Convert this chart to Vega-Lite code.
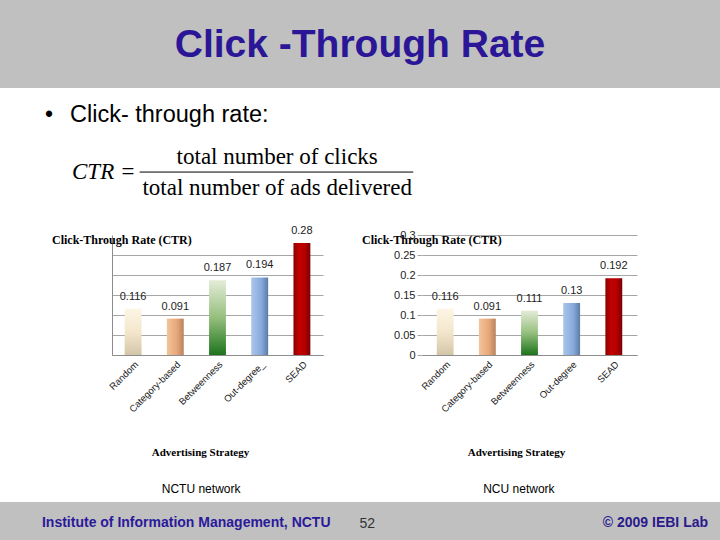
{
  "$schema": "https://vega.github.io/schema/vega-lite/v6.json",
  "padding": 0,
  "spacing": 0,
  "background": "white",
  "datasets": {
    "nctu": [
      {"strategy": "Random", "ctr": 0.116},
      {"strategy": "Category-based", "ctr": 0.091},
      {"strategy": "Betweenness", "ctr": 0.187},
      {"strategy": "Out-degree_", "ctr": 0.194},
      {"strategy": "SEAD", "ctr": 0.28}
    ],
    "ncu": [
      {"strategy": "Random", "ctr": 0.116},
      {"strategy": "Category-based", "ctr": 0.091},
      {"strategy": "Betweenness", "ctr": 0.111},
      {"strategy": "Out-degree", "ctr": 0.13},
      {"strategy": "SEAD", "ctr": 0.192}
    ]
  },
  "config": {
    "view": {"stroke": null},
    "concat": {"spacing": 0},
    "text": {"font": "Liberation Sans"},
    "axis": {"labelFont": "Liberation Sans", "titleFont": "Liberation Serif", "labelColor": "#222222", "titleColor": "#000000"}
  },
  "vconcat": [
    {
      "width": 720,
      "height": 88,
      "view": {"fill": "#c0c0c0", "stroke": null},
      "data": {"values": [{"t": "Click -Through Rate"}]},
      "mark": {"type": "text", "font": "Liberation Sans", "fontWeight": "bold", "fontSize": 39, "color": "#2a1696", "baseline": "alphabetic", "dy": 13},
      "encoding": {"text": {"field": "t"}}
    },
    {
      "width": 720,
      "height": 136,
      "layer": [
        {
          "data": {"values": [{"t": "•"}]},
          "mark": {"type": "text", "fontSize": 23, "align": "left", "baseline": "middle", "color": "#000000"},
          "encoding": {
            "x": {"datum": 0.0625, "type": "quantitative", "scale": {"domain": [0, 1]}, "axis": null},
            "y": {"datum": 0.199, "type": "quantitative", "scale": {"domain": [0, 1], "reverse": true}, "axis": null},
            "text": {"field": "t"}
          }
        },
        {
          "data": {"values": [{"t": "Click- through rate:"}]},
          "mark": {"type": "text", "fontSize": 23.5, "align": "left", "baseline": "middle", "color": "#000000"},
          "encoding": {
            "x": {"datum": 0.0972, "type": "quantitative"},
            "y": {"datum": 0.199, "type": "quantitative"},
            "text": {"field": "t"}
          }
        },
        {
          "data": {"values": [{"t": "CTR ="}]},
          "mark": {"type": "text", "font": "Liberation Serif", "fontStyle": "italic", "fontSize": 23, "align": "left", "baseline": "middle", "color": "#000000"},
          "encoding": {
            "x": {"datum": 0.1, "type": "quantitative"},
            "y": {"datum": 0.618, "type": "quantitative"},
            "text": {"field": "t"}
          }
        },
        {
          "data": {"values": [{"t": "total number of clicks"}]},
          "mark": {"type": "text", "font": "Liberation Serif", "fontSize": 23, "align": "center", "baseline": "middle", "color": "#000000"},
          "encoding": {
            "x": {"datum": 0.385, "type": "quantitative"},
            "y": {"datum": 0.507, "type": "quantitative"},
            "text": {"field": "t"}
          }
        },
        {
          "data": {"values": [{}]},
          "mark": {"type": "rule", "color": "#000000", "strokeWidth": 1},
          "encoding": {
            "x": {"datum": 0.194, "type": "quantitative"},
            "x2": {"datum": 0.574},
            "y": {"datum": 0.618, "type": "quantitative"}
          }
        },
        {
          "data": {"values": [{"t": "total number of ads delivered"}]},
          "mark": {"type": "text", "font": "Liberation Serif", "fontSize": 23, "align": "center", "baseline": "middle", "color": "#000000"},
          "encoding": {
            "x": {"datum": 0.385, "type": "quantitative"},
            "y": {"datum": 0.735, "type": "quantitative"},
            "text": {"field": "t"}
          }
        }
      ]
    },
    {
      "spacing": 39,
      "hconcat": [
        {
          "width": 13,
          "height": 10,
          "data": {"values": [{}]},
          "mark": {"type": "text", "text": ""}
        },
        {
          "width": 211,
          "height": 120,
          "title": {"text": "Click-Through Rate (CTR)", "anchor": "start", "frame": "group", "dx": -60, "offset": -22, "font": "Liberation Serif", "fontSize": 12, "fontWeight": "bold", "color": "#000000"},
          "data": {"name": "nctu"},
          "layer": [
            {
              "mark": {"type": "bar"},
              "encoding": {
                "x": {
                  "field": "strategy", "type": "nominal", "sort": null,
                  "scale": {"paddingInner": 0.6, "paddingOuter": 0.3},
                  "axis": {"title": "Advertising Strategy", "labelAngle": -45, "ticks": false, "domainColor": "#8c8c8c", "labelFontSize": 9.5, "titleFontSize": 11, "titleFontWeight": "bold", "titlePadding": 33, "titleX": 88, "labelPadding": 4}
                },
                "y": {
                  "field": "ctr", "type": "quantitative",
                  "scale": {"domain": [0, 0.3]},
                  "axis": {"values": [0, 0.05, 0.1, 0.15, 0.2, 0.25], "tickCount": 10, "labels": false, "ticks": false, "domain": true, "domainColor": "#8c8c8c", "title": null, "gridColor": "#a6a6a6"}
                },
                "fill": {
                  "condition": [
                    {"test": "datum.strategy === 'Random'", "value": {"gradient": "linear", "x1": 0, "y1": 0, "x2": 0, "y2": 1, "stops": [{"offset": 0, "color": "#fdf6e6"}, {"offset": 0.5, "color": "#f3e6cc"}, {"offset": 1, "color": "#d3c6a8"}]}},
                    {"test": "datum.strategy === 'Category-based'", "value": {"gradient": "linear", "x1": 0, "y1": 0, "x2": 1, "y2": 0, "stops": [{"offset": 0, "color": "#f4c49a"}, {"offset": 0.6, "color": "#e6a77a"}, {"offset": 1, "color": "#b6825e"}]}},
                    {"test": "datum.strategy === 'Betweenness'", "value": {"gradient": "linear", "x1": 0, "y1": 0, "x2": 0, "y2": 1, "stops": [{"offset": 0, "color": "#e4ecd8"}, {"offset": 0.5, "color": "#95bf7d"}, {"offset": 1, "color": "#1d741d"}]}},
                    {"test": "datum.strategy === 'Out-degree' || datum.strategy === 'Out-degree_'", "value": {"gradient": "linear", "x1": 0, "y1": 0, "x2": 1, "y2": 0, "stops": [{"offset": 0, "color": "#a8c5ec"}, {"offset": 0.6, "color": "#88aadb"}, {"offset": 1, "color": "#5b7ba8"}]}}
                  ],
                  "value": {"gradient": "linear", "x1": 0, "y1": 0, "x2": 1, "y2": 0, "stops": [{"offset": 0, "color": "#8c0000"}, {"offset": 0.35, "color": "#c40000"}, {"offset": 0.7, "color": "#b00000"}, {"offset": 1, "color": "#780000"}]}
                }
              }
            },
            {
              "mark": {"type": "text", "baseline": "alphabetic", "dy": -9, "fontSize": 11, "color": "#222222"},
              "encoding": {
                "x": {"field": "strategy", "type": "nominal", "sort": null},
                "y": {"field": "ctr", "type": "quantitative"},
                "text": {"field": "ctr", "type": "quantitative", "format": "~g"}
              }
            }
          ]
        },
        {
          "width": 215,
          "height": 120,
          "title": {"text": "Click-Through Rate (CTR)", "anchor": "start", "frame": "group", "dx": -60, "offset": -18, "font": "Liberation Serif", "fontSize": 12, "fontWeight": "bold", "color": "#000000"},
          "data": {"name": "ncu"},
          "layer": [
            {
              "mark": {"type": "bar"},
              "encoding": {
                "x": {
                  "field": "strategy", "type": "nominal", "sort": null,
                  "scale": {"paddingInner": 0.6, "paddingOuter": 0.35},
                  "axis": {"title": "Advertising Strategy", "labelAngle": -45, "ticks": false, "domainColor": "#8c8c8c", "labelFontSize": 9.5, "titleFontSize": 11, "titleFontWeight": "bold", "titlePadding": 33, "titleX": 94, "labelPadding": 4}
                },
                "y": {
                  "field": "ctr", "type": "quantitative",
                  "scale": {"domain": [0, 0.3]},
                  "axis": {"values": [0, 0.05, 0.1, 0.15, 0.2, 0.25, 0.3], "tickCount": 10, "format": "~g", "labelFontSize": 11, "labelOverlap": false, "tickColor": "#a6a6a6", "tickSize": 5, "labelPadding": 2, "domain": false, "title": null, "gridColor": "#a6a6a6"}
                },
                "fill": {
                  "condition": [
                    {"test": "datum.strategy === 'Random'", "value": {"gradient": "linear", "x1": 0, "y1": 0, "x2": 0, "y2": 1, "stops": [{"offset": 0, "color": "#fdf6e6"}, {"offset": 0.5, "color": "#f3e6cc"}, {"offset": 1, "color": "#d3c6a8"}]}},
                    {"test": "datum.strategy === 'Category-based'", "value": {"gradient": "linear", "x1": 0, "y1": 0, "x2": 1, "y2": 0, "stops": [{"offset": 0, "color": "#f4c49a"}, {"offset": 0.6, "color": "#e6a77a"}, {"offset": 1, "color": "#b6825e"}]}},
                    {"test": "datum.strategy === 'Betweenness'", "value": {"gradient": "linear", "x1": 0, "y1": 0, "x2": 0, "y2": 1, "stops": [{"offset": 0, "color": "#e4ecd8"}, {"offset": 0.5, "color": "#95bf7d"}, {"offset": 1, "color": "#1d741d"}]}},
                    {"test": "datum.strategy === 'Out-degree' || datum.strategy === 'Out-degree_'", "value": {"gradient": "linear", "x1": 0, "y1": 0, "x2": 1, "y2": 0, "stops": [{"offset": 0, "color": "#a8c5ec"}, {"offset": 0.6, "color": "#88aadb"}, {"offset": 1, "color": "#5b7ba8"}]}}
                  ],
                  "value": {"gradient": "linear", "x1": 0, "y1": 0, "x2": 1, "y2": 0, "stops": [{"offset": 0, "color": "#8c0000"}, {"offset": 0.35, "color": "#c40000"}, {"offset": 0.7, "color": "#b00000"}, {"offset": 1, "color": "#780000"}]}
                }
              }
            },
            {
              "mark": {"type": "text", "baseline": "alphabetic", "dy": -9, "fontSize": 11, "color": "#222222"},
              "encoding": {
                "x": {"field": "strategy", "type": "nominal", "sort": null},
                "y": {"field": "ctr", "type": "quantitative"},
                "text": {"field": "ctr", "type": "quantitative", "format": "~g"}
              }
            }
          ]
        }
      ]
    },
    {
      "width": 720,
      "height": 44,
      "data": {"values": [{"t": "NCTU network"}, {"t": "NCU network"}]},
      "mark": {"type": "text", "fontSize": 12, "color": "#000000", "baseline": "middle", "dy": 9},
      "encoding": {
        "x": {"field": "t", "type": "nominal", "scale": {"type": "point", "domain": ["NCTU network", "NCU network"], "padding": 0.633}, "axis": null},
        "text": {"field": "t"}
      }
    },
    {
      "width": 720,
      "height": 38,
      "view": {"fill": "#c0c0c0", "stroke": null},
      "layer": [
        {
          "data": {"values": [{"t": "Institute of Information Management, NCTU"}]},
          "mark": {"type": "text", "align": "left", "baseline": "middle", "fontSize": 14, "fontWeight": "bold", "color": "#2a1a9a", "dy": 2},
          "encoding": {
            "x": {"field": "t", "type": "nominal", "scale": {"type": "point", "domain": ["Institute of Information Management, NCTU", "52", "© 2009 IEBI Lab"], "padding": 0.081, "align": 0.778}, "axis": null},
            "text": {"field": "t"}
          }
        },
        {
          "data": {"values": [{"t": "52"}]},
          "mark": {"type": "text", "align": "right", "baseline": "middle", "fontSize": 14, "color": "#333333", "dy": 3},
          "encoding": {
            "x": {"field": "t", "type": "nominal"},
            "text": {"field": "t"}
          }
        },
        {
          "data": {"values": [{"t": "© 2009 IEBI Lab"}]},
          "mark": {"type": "text", "align": "right", "baseline": "middle", "fontSize": 14, "fontWeight": "bold", "color": "#2a1a8c", "dy": 2},
          "encoding": {
            "x": {"field": "t", "type": "nominal"},
            "text": {"field": "t"}
          }
        }
      ]
    }
  ]
}
